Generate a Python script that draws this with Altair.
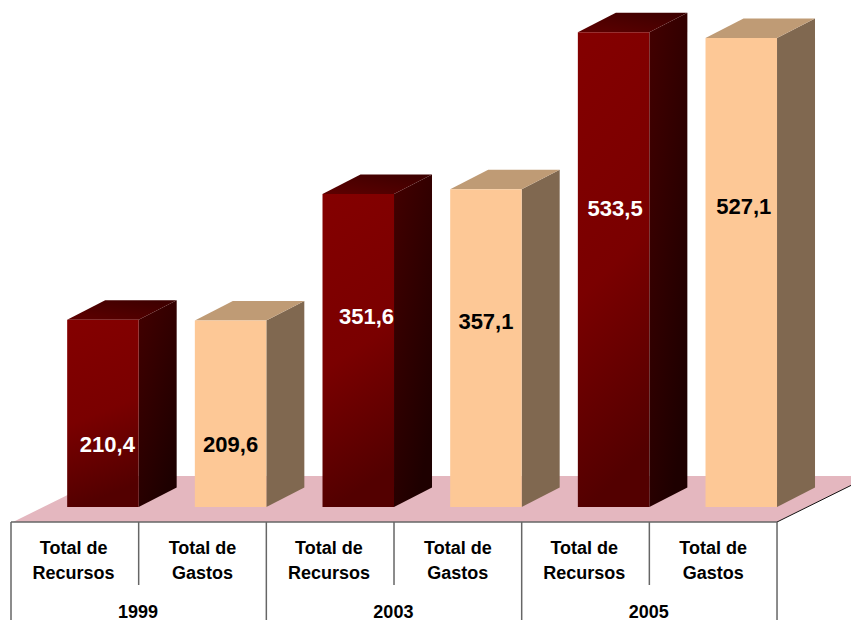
import altair as alt
import pandas as pd

# ---- chart values ----
years = ["1999", "2003", "2005"]
recursos = [210.4, 351.6, 533.5]
gastos = [209.6, 357.1, 527.1]
cat_lines = {"Recursos": ["Total de", "Recursos"], "Gastos": ["Total de", "Gastos"]}

# ---- layout ----
W, H = 843, 612
PX_PER_UNIT = 0.89
BASE_PX = 507.0          # page-image row of value 0
LEFT_PX, SLOT_PX = 11.0, 127.67
# where each printed value sits: height in value units, sideways nudge in slots
label_heights = [70, 70, 214, 208, 335, 337]
label_nudges = [0.035, 0.0, 0.065, 0.0, 0.012, 0.02]


def vy(px):
    return (BASE_PX - px) / PX_PER_UNIT


def sx(px):
    return (px - LEFT_PX) / SLOT_PX


xdom = [sx(8), sx(8 + W)]
ydom = [vy(8 + H), vy(8)]
X = alt.Scale(domain=xdom, nice=False, zero=False)
Y = alt.Scale(domain=ydom, nice=False, zero=False)
DX = 38 / SLOT_PX
DY = 19.5 / PX_PER_UNIT
BAR_W = 71.5 / SLOT_PX

series = []
for i, y in enumerate(years):
    series.append(("Recursos", y, recursos[i], 2 * i))
    series.append(("Gastos", y, gastos[i], 2 * i + 1))

front, side, top, labels = [], [], [], []
for n, (name, yr, v, slot) in enumerate(series):
    xr = slot + 1
    xl = xr - BAR_W
    front.append(dict(s=name, x=xl, x2=xr, y=0, y2=v))
    side.append(dict(s=name, id=n, x=xr, y=0, y2=v))
    side.append(dict(s=name, id=n, x=xr + DX, y=DY, y2=v + DY))
    top.append(dict(s=name, id=n, y=v, x=xl, x2=xr))
    top.append(dict(s=name, id=n, y=v + DY, x=xl + DX, x2=xr + DX))
    labels.append(dict(s=name, x=(xl + xr) / 2 + label_nudges[n], y=label_heights[n],
                       t=f"{v:.1f}".replace(".", ",")))
front, side, top, labels = map(pd.DataFrame, (front, side, top, labels))


def grad(x1, y1, x2, y2, *stops):
    return alt.LinearGradient(
        gradient="linear", x1=x1, y1=y1, x2=x2, y2=y2,
        stops=[alt.GradientStop(color=c, offset=o) for c, o in stops])


COL = {
    "Recursos": dict(
        front=grad(0, 0, 0.15, 1, ("#840000", 0), ("#7a0000", 0.55), ("#530000", 1)),
        side=grad(0, 0, 0.6, 1, ("#430000", 0), ("#1e0000", 1)),
        top=grad(0, 1, 1, 0, ("#5e0000", 0), ("#3a0000", 1)),
        text="white"),
    "Gastos": dict(front="#FDC896", side="#806850", top="#BF9B75", text="black"),
}


def xq(f="x"):
    return alt.X(f"{f}:Q", scale=X, axis=None)


def yq(f="y"):
    return alt.Y(f"{f}:Q", scale=Y, axis=None)


layers = []

# floor
floor = pd.DataFrame([
    dict(y=vy(522), x=sx(13), x2=sx(777)),
    dict(y=vy(476), x=sx(106), x2=sx(870)),
])
layers.append(alt.Chart(floor).mark_area(orient="horizontal", color="#E4B7BF", clip=True).encode(
    x=xq(), x2="x2:Q", y=yq()))
edge = pd.DataFrame([dict(x=sx(777), y=vy(522)), dict(x=sx(870), y=vy(476))])
layers.append(alt.Chart(edge).mark_line(color="#111111", strokeWidth=1, clip=True).encode(x=xq(), y=yq()))

# bars
for name, c in COL.items():
    layers.append(alt.Chart(side[side.s == name]).mark_area(color=c["side"]).encode(
        x=xq(), y=yq(), y2="y2:Q", detail="id:N"))
    layers.append(alt.Chart(top[top.s == name]).mark_area(orient="horizontal", color=c["top"]).encode(
        x=xq(), x2="x2:Q", y=yq(), detail="id:N"))
    layers.append(alt.Chart(front[front.s == name]).mark_rect(color=c["front"]).encode(
        x=xq(), x2="x2:Q", y=yq(), y2="y2:Q"))
    layers.append(alt.Chart(labels[labels.s == name]).mark_text(
        font="Liberation Sans", fontWeight="bold", fontSize=22, color=c["text"], baseline="middle"
    ).encode(x=xq(), y=yq(), text="t:N"))

# table
rows_top, rows_mid, rows_bot = vy(522), vy(585), vy(640)
grid = [dict(x=0, x2=6, y=rows_top, y2=rows_top)]
for k in range(7):
    grid.append(dict(x=k, x2=k, y=rows_top, y2=rows_bot if k % 2 == 0 else rows_mid))
layers.append(alt.Chart(pd.DataFrame(grid)).mark_rule(color="#666666", strokeWidth=1.5, clip=True).encode(
    x=xq(), x2="x2:Q", y=yq(), y2="y2:Q"))

cat_rows = []
for name, yr, v, s in series:
    for line, px in zip(cat_lines[name], (549, 574)):
        cat_rows.append(dict(x=s + (0.49 if name == "Recursos" else 0.5), y=vy(px), t=line))
year_rows = [dict(x=2 * i + 0.995, y=vy(612.5), t=y) for i, y in enumerate(years)]
for rows in (cat_rows, year_rows):
    layers.append(alt.Chart(pd.DataFrame(rows)).mark_text(
        font="Liberation Sans", fontWeight="bold", fontSize=18, color="black", baseline="middle"
    ).encode(x=xq(), y=yq(), text="t:N"))

chart = alt.layer(*layers).properties(
    width=W, height=H, padding=0, autosize=alt.AutoSizeParams(type="none"), background="white"
).configure_view(stroke=None)

chart.save("out.html", embed_options={"renderer": "svg", "actions": False})
